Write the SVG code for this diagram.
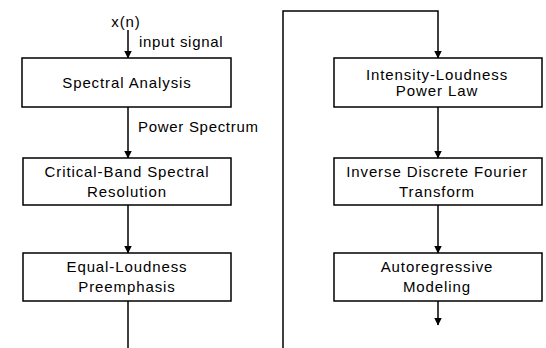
<svg xmlns="http://www.w3.org/2000/svg" width="546" height="348" viewBox="0 0 546 348">
<style>
.box{fill:#fff;stroke:#000;stroke-width:1.5}
.t{font-family:"Liberation Sans",Arial,sans-serif;font-size:15px;letter-spacing:0.9px;fill:#000;text-anchor:middle}
.l{font-family:"Liberation Sans",Arial,sans-serif;font-size:15px;letter-spacing:0.7px;fill:#000}
.c{fill:none;stroke:#000;stroke-width:1.5}
</style>
<defs>
<marker id="ah" markerWidth="8" markerHeight="9" refX="7.5" refY="4" orient="auto" markerUnits="userSpaceOnUse">
<path d="M0,0 L8,4 L0,8 Z" fill="#000"/>
</marker>
</defs>
<g id="connectors">
<line class="c" x1="128" y1="30" x2="128" y2="58" marker-end="url(#ah)"/>
<line class="c" x1="128" y1="107" x2="128" y2="158" marker-end="url(#ah)"/>
<line class="c" x1="128" y1="205" x2="128" y2="253" marker-end="url(#ah)"/>
<line class="c" x1="128" y1="301" x2="128" y2="348"/>
<polyline class="c" points="283,348 283,11 438,11 438,58" marker-end="url(#ah)"/>
<line class="c" x1="438" y1="107" x2="438" y2="158" marker-end="url(#ah)"/>
<line class="c" x1="438" y1="205" x2="438" y2="253" marker-end="url(#ah)"/>
<line class="c" x1="438" y1="301" x2="438" y2="325" marker-end="url(#ah)"/>
<text class="l" x="139" y="47">input signal</text>
<text class="l" x="138" y="132">Power Spectrum</text>
</g>
<g id="input">
<text class="t" x="126" y="27">x(n)</text>
</g>
<g id="spectral-analysis">
<rect class="box" x="22" y="58" width="209" height="49"/>
<text class="t" x="127" y="88">Spectral Analysis</text>
</g>
<g id="critical-band">
<rect class="box" x="23" y="158" width="208" height="47"/>
<text class="t" x="127" y="177">Critical-Band Spectral</text>
<text class="t" x="127" y="197">Resolution</text>
</g>
<g id="equal-loudness">
<rect class="box" x="23" y="253" width="208" height="48"/>
<text class="t" x="127" y="272">Equal-Loudness</text>
<text class="t" x="127" y="292">Preemphasis</text>
</g>
<g id="intensity-loudness">
<rect class="box" x="334" y="58" width="208" height="49"/>
<text class="t" x="437" y="80">Intensity-Loudness</text>
<text class="t" x="437" y="96">Power Law</text>
</g>
<g id="inverse-dft">
<rect class="box" x="334" y="158" width="208" height="47"/>
<text class="t" x="437" y="177">Inverse Discrete Fourier</text>
<text class="t" x="437" y="197">Transform</text>
</g>
<g id="autoregressive">
<rect class="box" x="334" y="253" width="208" height="48"/>
<text class="t" x="437" y="272">Autoregressive</text>
<text class="t" x="437" y="292">Modeling</text>
</g>
</svg>
